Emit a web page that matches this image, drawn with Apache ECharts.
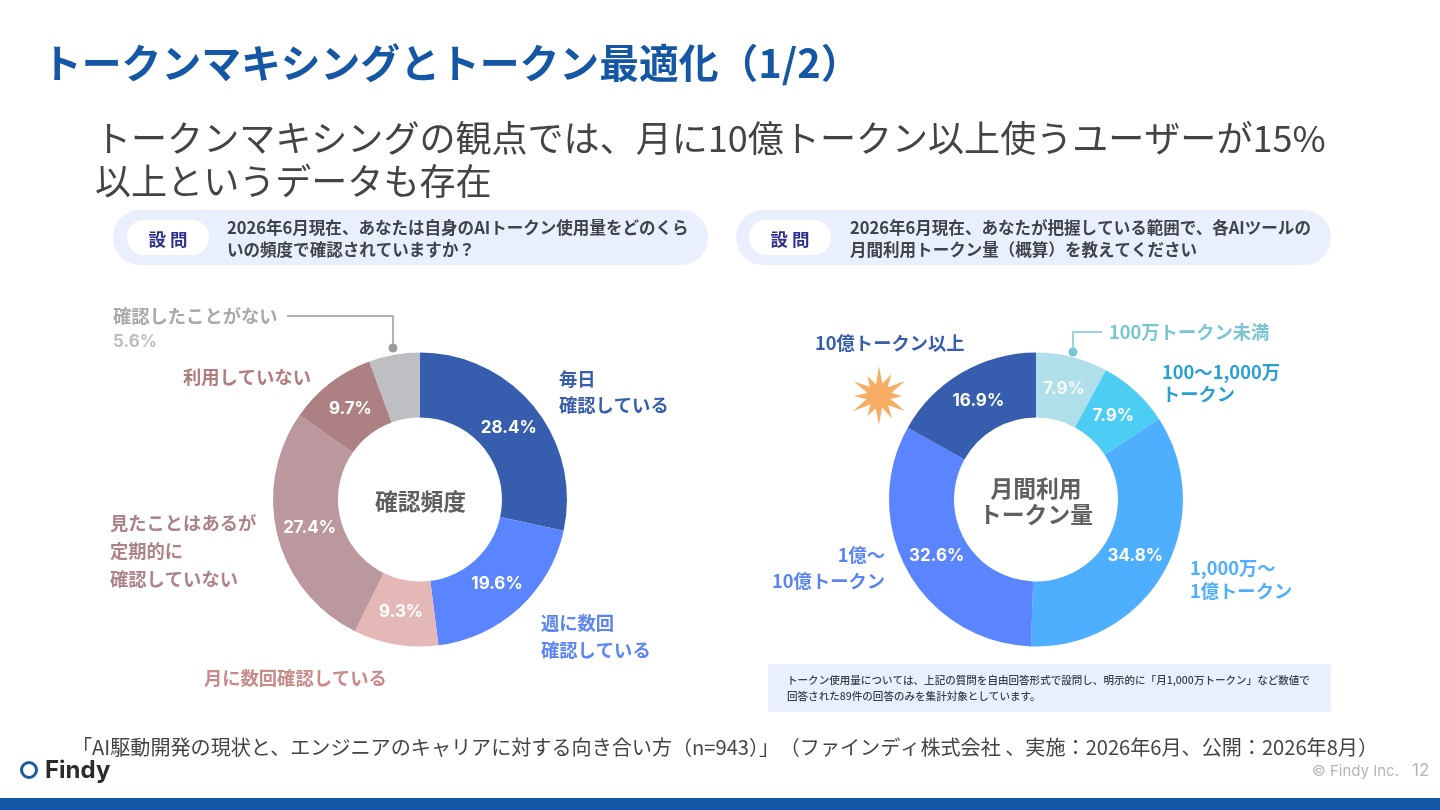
<!DOCTYPE html>
<html><head><meta charset="utf-8">
<script src="https://cdn.jsdelivr.net/npm/echarts@6/dist/echarts.min.js"></script>
<style>html,body{margin:0;padding:0;background:#fff}#c{width:1440px;height:810px}</style></head>
<body><div id="c"></div>
<script>
const FONT = '"Noto Sans CJK JP","Noto Sans",sans-serif';
const freqCategories = ['毎日確認している','週に数回確認している','月に数回確認している','見たことはあるが定期的に確認していない','利用していない','確認したことがない'];
const freqValues = [28.4,19.6,9.3,27.4,9.7,5.6];
const freqColors = ['#375EAE','#5B84FF','#E5B8B8','#BB979E','#AD8184','#BDBFC2'];
const tokenCategories = ['100万トークン未満','100〜1,000万トークン','1,000万〜1億トークン','1億〜10億トークン','10億トークン以上'];
const tokenValues = [7.9,7.9,34.8,32.6,16.9];
const tokenColors = ['#AFDFE8','#4CCDF3','#4EAEFF','#5B84FF','#375EAE'];

const LABEL = 18.3;
function txt(x,y,text,size,fill,weight,extra){
  return {type:'text',silent:true,style:Object.assign({x,y,text,font:`${weight||400} ${size}px ${FONT}`,fill,textVerticalAlign:'middle',textAlign:'left'},extra||{})};
}
function pie(center,cats,vals,cols){
  return {type:'pie',center,radius:[82,147],startAngle:90,clockwise:true,silent:true,animation:false,
    avoidLabelOverlap:false,labelLine:{show:false},label:{show:false},
    data:cats.map((n,i)=>({name:n,value:vals[i],itemStyle:{color:cols[i]}}))};
}
function labelPie(center,cats,vals,cols,hideIdx){
  return {type:'pie',center,radius:[82,140],startAngle:90,clockwise:true,silent:true,animation:false,z:3,
    avoidLabelOverlap:false,labelLine:{show:false},itemStyle:{color:'rgba(0,0,0,0)'},
    label:{show:true,position:'inside',formatter:p=>p.value.toFixed(1)+'%',color:'#fff',fontFamily:'Inter',fontWeight:700,fontSize:17},
    data:cats.map((n,i)=>({name:n,value:vals[i],label:hideIdx===i?{show:false}:(cols[i]==='#AFDFE8'?{color:'#F4FBFC'}:{})}))};
}
const starPts=[];
const starR=[30,13,25,12,30,13,23,12,30,13,26,12,29,13,23,12,30,13,25,12,29,13,23,12];
starR.forEach((r,i)=>{const a=i/starR.length*Math.PI*2-Math.PI/2;starPts.push([879+r*Math.cos(a),396+r*Math.sin(a)]);});

const graphic=[
  txt(42,63,'トークンマキシングとトークン最適化（1/2）',39.8,'#1557A5',700),
  txt(95,138.5,'トークンマキシングの観点では、月に10億トークン以上使うユーザーが15%',36.05,'#444444',400),
  txt(95,181.5,'以上というデータも存在',36.05,'#444444',400),
  {type:'rect',silent:true,shape:{x:113,y:210,width:595,height:55,r:27},style:{fill:'#E9EFFC'}},
  {type:'rect',silent:true,shape:{x:127,y:220,width:82,height:35,r:17},style:{fill:'#fff'}},
  txt(168,239,'設 問',17.5,'#2E3192',700,{textAlign:'center'}),
  txt(227,228,'2026年6月現在、あなたは自身のAIトークン使用量をどのくら',16.55,'#3F434A',700),
  txt(227,250,'いの頻度で確認されていますか？',16.55,'#3F434A',700),
  {type:'rect',silent:true,shape:{x:736,y:210,width:595,height:55,r:27},style:{fill:'#E9EFFC'}},
  {type:'rect',silent:true,shape:{x:749,y:220,width:82,height:35,r:17},style:{fill:'#fff'}},
  txt(790,239,'設 問',17.5,'#2E3192',700,{textAlign:'center'}),
  txt(850,228,'2026年6月現在、あなたが把握している範囲で、各AIツールの',16.55,'#3F434A',700),
  txt(850,250,'月間利用トークン量（概算）を教えてください',16.55,'#3F434A',700),

  txt(113,316,'確認したことがない',LABEL,'#A9A9A9',700),
  txt(113,342,'5.6%',LABEL,'#BDBDBD',700,{font:'700 17px Inter'}),
  {type:'polyline',silent:true,shape:{points:[[287,316],[393,316],[393,348]]},style:{stroke:'#9A9A9A',lineWidth:1.5,fill:'none'}},
  {type:'circle',silent:true,shape:{cx:393,cy:348,r:4.5},style:{fill:'#9A9CA0'}},
  txt(559,379,'毎日',LABEL,'#375EAE',700),
  txt(559,405,'確認している',LABEL,'#375EAE',700),
  txt(541,623,'週に数回',LABEL,'#5B84F5',700),
  txt(541,650,'確認している',LABEL,'#5B84F5',700),
  txt(204,678,'月に数回確認している',LABEL,'#C98A8A',700),
  txt(110,523,'見たことはあるが',LABEL,'#AD8389',700),
  txt(110,551,'定期的に',LABEL,'#AD8389',700),
  txt(110,579,'確認していない',LABEL,'#AD8389',700),
  txt(183,377,'利用していない',LABEL,'#B07C7F',700),
  txt(420.5,501,'確認頻度',22.8,'#5F5F5F',700,{textAlign:'center'}),

  txt(815,343,'10億トークン以上',LABEL,'#375EAE',700),
  {type:'polygon',silent:true,shape:{points:starPts},style:{fill:'#F7AE64'}},
  txt(1109,332,'100万トークン未満',LABEL,'#79C6D2',700),
  {type:'polyline',silent:true,shape:{points:[[1102,332],[1073,332],[1073,352]]},style:{stroke:'#79C6D2',lineWidth:1.5,fill:'none'}},
  {type:'circle',silent:true,shape:{cx:1073,cy:352,r:4.5},style:{fill:'#79C6D2'}},
  txt(1162,372,'100〜1,000万',LABEL,'#2A9FD6',700),
  txt(1162,394,'トークン',LABEL,'#2A9FD6',700),
  txt(1190,568,'1,000万〜',LABEL,'#4EAEFF',700),
  txt(1190,591,'1億トークン',LABEL,'#4EAEFF',700),
  txt(885,555,'1億〜',LABEL,'#5B84F5',700,{textAlign:'right'}),
  txt(885,581,'10億トークン',LABEL,'#5B84F5',700,{textAlign:'right'}),
  txt(1036,488,'月間利用',22.8,'#5F5F5F',700,{textAlign:'center'}),
  txt(1036,514,'トークン量',22.8,'#5F5F5F',700,{textAlign:'center'}),

  {type:'rect',silent:true,shape:{x:768,y:664,width:563,height:48,r:4},style:{fill:'#E9EFFC'}},
  txt(787,680,'トークン使用量については、上記の質問を自由回答形式で設問し、明示的に「月1,000万トークン」など数値で',10.55,'#3C4048',500),
  txt(787,696,'回答された89件の回答のみを集計対象としています。',10.55,'#3C4048',500),

  txt(72,747,'「AI駆動開発の現状と、エンジニアのキャリアに対する向き合い方（n=943）」',20.1,'#444444',400),
  txt(1378,747,'（ファインディ株式会社 、実施：2026年6月、公開：2026年8月）',20.1,'#444444',400,{textAlign:'right'}),
  {type:'circle',silent:true,shape:{cx:29,cy:770,r:7.5},style:{fill:'none',stroke:'#1B5C9E',lineWidth:3}},
  txt(45,771,'Findy',24,'#2B2B2B',700,{font:'700 24px Inter'}),
  txt(1312,771,'© Findy Inc.',15,'#B5B5B5',400,{font:'400 15px Inter'}),
  txt(1412,771,'12',17,'#B5B5B5',400,{font:'400 17px Inter'}),
  {type:'rect',silent:true,shape:{x:0,y:798,width:1440,height:12},style:{fill:'#1557A5'}}
];

const chart=echarts.init(document.getElementById('c'),null,{renderer:'canvas'});
chart.setOption({animation:false,backgroundColor:'#fff',
  series:[pie([420,499.5],freqCategories,freqValues,freqColors),pie([1036,499.5],tokenCategories,tokenValues,tokenColors),
    labelPie([420,499.5],freqCategories,freqValues,freqColors,5),labelPie([1036,499.5],tokenCategories,tokenValues,tokenColors,-1)],
  graphic:{elements:graphic}});
</script></body></html>
